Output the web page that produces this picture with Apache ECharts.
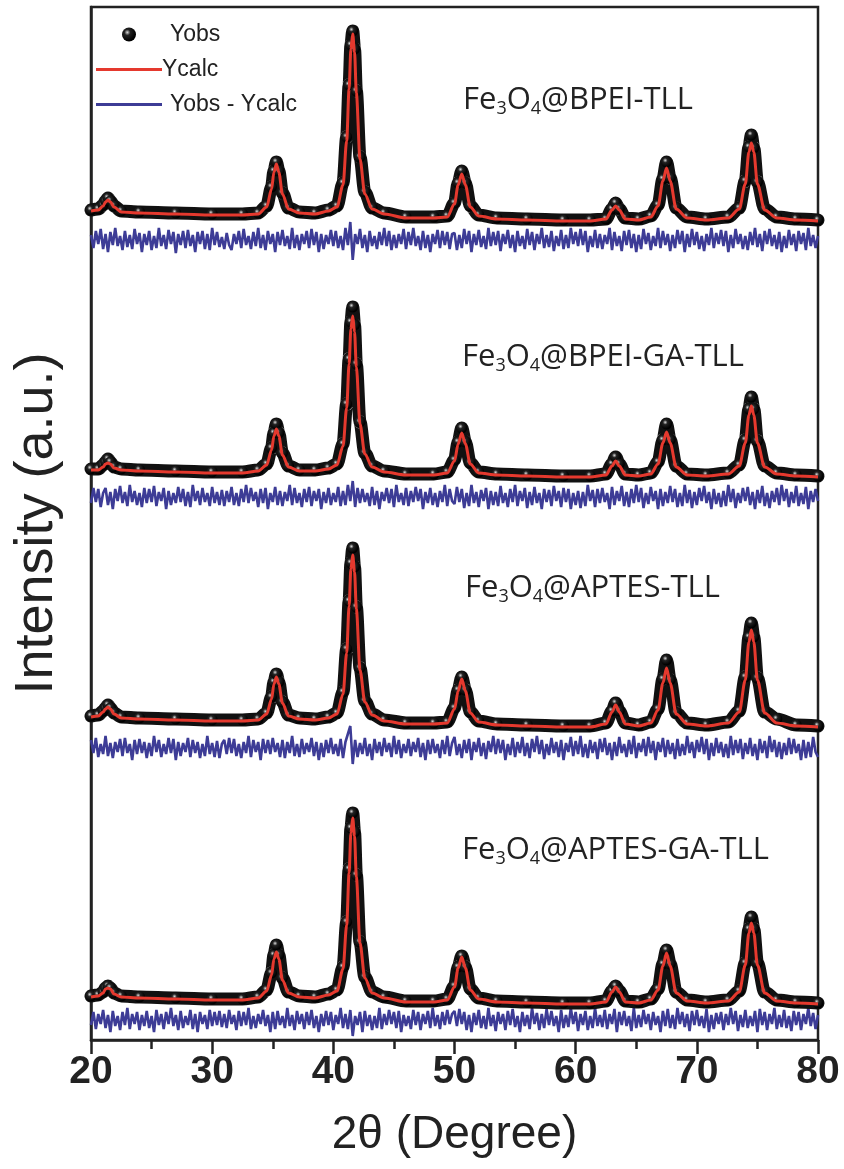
<!DOCTYPE html>
<html lang="en" style="height: 100%;margin: 0;">
<head>
    <meta charset="UTF-8">
    <title>XRD Rietveld</title>
    <script src="https://cdn.jsdelivr.net/npm/echarts@6/dist/echarts.min.js"></script>
</head>
<body style="height: 100%;margin: 0;background: #fff;">
<div id="chart" style="width: 844px;height: 1169px;"></div>
<script>
    // 2theta positions of the fitted profile (denser round the reflections)
    var twoTheta = [20, 20.6, 21.0, 21.2, 21.4, 21.6, 21.9, 22.5, 24, 27,
        30, 32.5, 33.8, 34.5, 34.9, 35.1, 35.3, 35.5, 35.8, 36.3,
        37.2, 38.5, 39.6, 40.3, 40.8, 41.1, 41.3, 41.45, 41.6, 41.75,
        41.9, 42.2, 42.6, 43.2, 44.2, 46, 48.3, 49.4, 50.0, 50.3,
        50.6, 50.9, 51.3, 52.0, 53.5, 56, 59, 61.2, 62.5, 63.0,
        63.3, 63.6, 64.1, 65.2, 66.2, 66.8, 67.2, 67.5, 67.8, 68.3,
        69.2, 70.8, 72.6, 73.5, 74.0, 74.3, 74.5, 74.7, 75.0, 75.6,
        76.6, 78.2, 80];

    var sampleNames = ["BPEI-TLL", "BPEI-GA-TLL", "APTES-TLL", "APTES-GA-TLL"];
    // vertical offset of each pattern in the stack (a.u.)
    var stackOffset = [819, 563, 313, 36];
    var diffShift = [-19, -20, -21, -16];

    var yCalc1 = [10, 11, 15, 19, 21, 19, 14, 9, 8, 7,
        6, 6, 7, 14, 32, 49, 57, 49, 27, 12,
        8, 7, 10, 14, 36, 80, 132, 172, 187, 169,
        128, 62, 27, 12, 7, 3, 3, 4, 17, 36,
        47, 36, 14, 5, 2, 1, 0, 0, 2, 11,
        15, 11, 2, 1, 4, 15, 40, 53, 40, 12,
        3, 1, 3, 12, 37, 69, 78, 69, 37, 11,
        3, 1, 0];
    var yObs1 = [11, 12, 16, 20, 23, 20, 15, 10, 9, 8,
        7, 7, 8, 15, 34, 50, 59, 50, 28, 13,
        9, 8, 11, 15, 38, 84, 136, 176, 190, 172,
        130, 64, 29, 13, 8, 4, 4, 5, 18, 38,
        50, 38, 15, 6, 3, 2, 1, 1, 2, 12,
        18, 12, 3, 2, 5, 16, 42, 59, 43, 13,
        4, 2, 4, 13, 40, 74, 86, 73, 39, 12,
        4, 2, 1];

    var yCalc2 = [7, 7, 10, 13, 14, 13, 9, 7, 6, 5,
        4, 4, 6, 12, 27, 41, 48, 41, 22, 10,
        6, 6, 8, 12, 31, 69, 113, 148, 161, 145,
        110, 53, 23, 10, 5, 2, 2, 4, 16, 33,
        44, 33, 13, 4, 2, 1, 0, 0, 2, 11,
        16, 11, 2, 1, 3, 13, 34, 45, 34, 10,
        2, 1, 3, 11, 34, 62, 71, 62, 34, 10,
        3, 1, 0];
    var yObs2 = [8, 8, 12, 15, 18, 15, 10, 8, 7, 6,
        5, 5, 7, 13, 29, 44, 53, 44, 24, 11,
        7, 7, 9, 13, 33, 73, 118, 155, 170, 152,
        113, 55, 24, 11, 6, 3, 3, 5, 17, 35,
        49, 35, 14, 5, 3, 2, 1, 1, 3, 13,
        20, 13, 3, 2, 4, 15, 37, 53, 37, 11,
        3, 2, 4, 12, 37, 68, 80, 68, 36, 11,
        4, 2, 1];

    var yCalc3 = [10, 11, 15, 18, 20, 18, 13, 9, 8, 7,
        6, 6, 7, 13, 28, 43, 50, 43, 24, 11,
        8, 7, 9, 13, 33, 74, 121, 158, 172, 155,
        118, 57, 25, 12, 6, 3, 3, 4, 18, 36,
        48, 36, 14, 5, 2, 1, 0, 0, 3, 15,
        22, 15, 3, 1, 4, 17, 44, 59, 44, 13,
        3, 1, 4, 15, 47, 85, 97, 85, 47, 14,
        4, 1, 0];
    var yObs3 = [11, 12, 16, 19, 22, 19, 14, 10, 9, 8,
        7, 7, 8, 14, 30, 45, 53, 45, 25, 12,
        9, 8, 10, 14, 35, 78, 126, 164, 179, 160,
        120, 59, 26, 13, 7, 4, 4, 5, 19, 37,
        50, 37, 15, 6, 3, 2, 1, 1, 4, 16,
        24, 16, 4, 2, 5, 18, 48, 67, 47, 14,
        4, 2, 5, 16, 50, 90, 104, 90, 49, 15,
        8, 2, 1];

    var yCalc4 = [7, 8, 11, 15, 16, 15, 10, 7, 6, 5,
        4, 4, 6, 13, 29, 45, 52, 45, 24, 11,
        7, 6, 9, 13, 35, 79, 131, 171, 186, 168,
        127, 61, 26, 11, 6, 2, 2, 4, 17, 36,
        47, 36, 14, 5, 2, 1, 0, 0, 2, 12,
        17, 12, 2, 1, 4, 14, 38, 51, 38, 11,
        3, 1, 3, 12, 39, 71, 81, 71, 39, 11,
        3, 1, 0];
    var yObs4 = [8, 9, 12, 16, 18, 16, 11, 8, 7, 6,
        5, 5, 7, 14, 31, 49, 59, 49, 26, 12,
        8, 7, 10, 14, 37, 82, 135, 176, 191, 172,
        129, 62, 27, 12, 7, 3, 3, 5, 18, 37,
        48, 37, 15, 6, 3, 2, 1, 1, 3, 13,
        18, 13, 3, 2, 5, 15, 40, 54, 40, 12,
        4, 2, 4, 13, 41, 75, 87, 75, 41, 12,
        4, 2, 1];

    // difference curves, recorded from 20 deg in 0.2 deg steps
    var diffStart = 20;
    var diffStep = 0.2;
    var yDiff1 = [5, -8, 9, -4, 11, -9, 6, -12, 8, -5,
        12, -6, 4, -10, 9, -7, 5, -9, 11, -4,
        7, -12, 6, -5, 9, -10, 4, -8, 12, -6,
        5, -9, 10, -4, 8, -13, 6, -5, 9, -8,
        10, -6, 5, -12, 8, -4, 9, -9, 6, -10,
        12, -5, 8, -7, 3, -9, 7, -5, -10, 6,
        -4, 9, -8, 11, -5, 4, -9, 8, -6, 12,
        -8, 5, -10, 9, -4, 6, -12, 8, -5, 10,
        -6, 4, -9, 12, -8, 5, -10, 6, -4, 9,
        -8, 11, -5, 8, -12, 6, -9, 5, -4, 10,
        -6, 9, -8, 4, -10, 12, -5, 18, -20, 6,
        -4, 11, -8, 5, -12, 9, -6, 4, -9, 8,
        -5, 12, -6, 9, -10, 5, -8, 6, -4, 11,
        -9, 8, -5, 12, -6, 4, -10, 9, -8, 5,
        -12, 6, -4, 10, -8, 9, -5, 8, -9, 6,
        7, -10, 5, -8, 11, -4, 9, -12, 6, -5,
        10, -7, 4, -9, 12, -6, 8, -5, 9, -11,
        6, -4, 10, -8, 5, -12, 9, -6, 4, -9,
        11, -5, 8, -10, 6, -4, 12, -8, 5, -7,
        9, -11, 4, -6, 10, -9, 5, -8, 12, -4,
        8, -6, 11, -5, 9, -12, 4, -7, 10, -8,
        6, -9, 5, -4, 12, -10, 8, -6, 4, -11,
        9, -5, 10, -8, 6, -12, 5, -9, 11, -4,
        7, -10, 4, -6, 12, -8, 9, -5, 6, -11,
        5, -8, 10, -4, 9, -12, 6, -7, 11, -5,
        8, -9, 4, -11, 6, -5, 12, -8, 7, -4,
        10, -6, 9, -12, 5, -8, 11, -4, 6, -9,
        4, -10, 8, -5, 12, -7, 6, -11, 9, -4,
        11, -6, 5, -9, 8, -12, 4, -8, 10, -5,
        6, -11, 9, -4, 7, -10, 12, -6, 5, -8,
        4];
    var yDiff2 = [-6, 9, -5, 8, -10, 4, 9, -8, 5, -12,
        8, -4, 11, -6, 5, -9, 12, -5, 6, -8,
        4, -10, 9, -6, 8, -5, 11, -9, 5, -4,
        9, -12, 6, -8, 4, -6, 10, -5, 8, -9,
        5, -10, 12, -4, 6, -8, 9, -5, 4, -9,
        10, -6, 5, -8, 7, -9, 6, -5, 10, -8,
        4, -9, 8, -5, 12, -6, 9, -4, 5, -10,
        8, -6, 9, -12, 4, -5, 10, -8, 6, -9,
        5, -4, 12, -8, 9, -6, 4, -10, 8, -5,
        10, -9, 6, -4, 8, -12, 5, -6, 9, -8,
        4, -5, 10, -9, 6, -8, 12, -4, 16, -10,
        9, -6, 8, -5, 4, -9, 10, -8, 6, -12,
        5, -4, 9, -6, 8, -10, 12, -5, 4, -8,
        9, -9, 6, -5, 10, -4, 8, -12, 5, -6,
        9, -8, 4, -10, 6, -5, 12, -9, 8, -4,
        -7, 10, -5, 8, -11, 4, -9, 12, -6, 5,
        -10, 7, -4, 9, -12, 6, -8, 5, -9, 11,
        -6, 4, -10, 8, -5, 12, -9, 6, -4, 9,
        -11, 5, -8, 10, -6, 4, -12, 8, -5, 7,
        -9, 11, -4, 6, -10, 9, -5, 8, -12, 4,
        -8, 6, -11, 5, -9, 12, -4, 7, -10, 8,
        -6, 9, -5, 4, -12, 10, -8, 6, -4, 11,
        -9, 5, -10, 8, -6, 12, -5, 9, -11, 4,
        -7, 10, -4, 6, -12, 8, -9, 5, -6, 11,
        -5, 8, -10, 4, -9, 12, -6, 7, -11, 5,
        -8, 9, -4, 11, -6, 5, -12, 8, -7, 4,
        -10, 6, -9, 12, -5, 8, -11, 4, -6, 9,
        -4, 10, -8, 5, -12, 7, -6, 11, -9, 4,
        -11, 6, -5, 9, -8, 12, -4, 8, -10, 5,
        -6, 11, -9, 4, -7, 10, -12, 6, -5, 8,
        -4];
    var yDiff3 = [8, -5, 10, -9, 4, -6, 12, -8, 5, -10,
        6, -4, 9, -8, 10, -5, 4, -12, 8, -6,
        9, -5, 6, -10, 5, -8, 12, -4, 8, -9,
        4, -6, 10, -5, 9, -12, 6, -8, 5, -4,
        10, -9, 8, -5, 6, -10, 4, -8, 12, -6,
        5, -9, 7, -10, 4, 8, -6, 10, -5, 9,
        -8, 4, -10, 6, -5, 12, -9, 8, -4, 6,
        -12, 9, -5, 8, -6, 10, -4, 5, -9, 8,
        -10, 6, -5, 12, -8, 4, -9, 9, -6, 5,
        -4, 10, -8, 6, -12, 5, -9, 8, -5, 10,
        -6, 4, -8, 9, -10, 6, 14, 22, -16, 8,
        -9, 5, -6, 10, -8, 4, -12, 9, -5, 6,
        -8, 10, -4, 5, -9, 12, -6, 8, -10, 4,
        -5, 9, -8, 6, -4, 10, -9, 5, -12, 8,
        -6, 9, -5, 4, -10, 8, -6, 12, -8, 5,
        11, -7, 4, -10, 8, -5, 9, -12, 6, -4,
        10, -8, 5, -11, 7, -4, 12, -6, 9, -5,
        8, -12, 4, -7, 10, -9, 6, -5, 11, -8,
        5, -10, 9, -4, 12, -6, 8, -11, 4, -7,
        10, -5, 6, -9, 8, -12, 5, -4, 11, -8,
        7, -6, 12, -9, 4, -10, 8, -5, 6, -11,
        9, -4, 10, -7, 5, -12, 6, -8, 11, -5,
        4, -9, 8, -6, 12, -10, 5, -4, 9, -8,
        11, -5, 7, -12, 6, -4, 10, -9, 8, -6,
        5, -11, 9, -8, 4, -7, 12, -5, 6, -10,
        8, -4, 11, -6, 9, -12, 5, -8, 10, -5,
        6, -9, 4, -10, 12, -7, 8, -5, 9, -11,
        5, -6, 10, -8, 4, -12, 9, -5, 7, -10,
        12, -4, 8, -9, 6, -11, 5, -7, 10, -6,
        9, -5, 4, -12, 8, -10, 6, -9, 11, -4,
        -9];
    var yDiff4 = [-5, 8, -9, 6, -4, 10, -8, 5, -12, 9,
        -6, 4, -10, 8, -5, 12, -9, 6, -4, 8,
        -10, 5, -6, 9, -8, 4, -12, 10, -5, 6,
        -9, 8, -4, 12, -6, 5, -10, 9, -8, 4,
        -5, 10, -9, 6, -12, 8, -4, 5, -9, 10,
        -6, 8, -5, 9, -7, 6, -8, 10, -4, 5,
        -10, 9, -6, 8, -5, 12, -9, 4, -8, 6,
        -4, 10, -6, 5, -12, 8, -9, 9, -5, 4,
        -8, 12, -6, 5, -10, 9, -4, 6, -9, 8,
        -5, 10, -8, 4, -12, 6, -6, 9, -5, 8,
        -10, 5, -4, 12, -8, 6, -9, 10, -16, 4,
        -5, 8, -12, 9, -6, 5, -10, 4, -8, 12,
        -9, 6, -5, 10, -4, 8, -8, 9, -12, 5,
        -6, 4, -9, 10, -5, 8, -10, 6, -4, 9,
        -8, 12, -6, 5, -9, 8, -5, 10, -4, 6,
        9, -6, 11, -4, 8, -10, 5, -12, 7, -5,
        10, -8, 4, -9, 12, -6, 5, -11, 8, -4,
        6, -10, 9, -5, 11, -7, 4, -12, 8, -6,
        5, -9, 12, -4, 7, -10, 6, -8, 11, -5,
        9, -6, 4, -12, 10, -8, 5, -7, 12, -4,
        8, -11, 6, -5, 9, -10, 4, -8, 12, -6,
        5, -7, 10, -9, 6, -4, 11, -12, 8, -5,
        9, -6, 4, -11, 12, -8, 5, -7, 10, -4,
        6, -10, 8, -5, 4, -12, 9, -6, 11, -8,
        5, -9, 12, -4, 8, -7, 6, -11, 9, -5,
        10, -6, 4, -8, 11, -12, 5, -9, 7, -4,
        8, -10, 6, -5, 12, -4, 9, -11, 5, -7,
        10, -8, 4, -6, 9, -12, 11, -5, 8, -10,
        6, -4, 12, -9, 5, -7, 10, -8, 4, -11,
        9, -5, 8, -10, 6, -4, 12, -6, 7, -9,
        5];

    var xTicks = [20, 30, 40, 50, 60, 70, 80];

    var yCalc = [yCalc1, yCalc2, yCalc3, yCalc4];
    var yObs = [yObs1, yObs2, yObs3, yObs4];
    var yDiff = [yDiff1, yDiff2, yDiff3, yDiff4];

    var labelTop = [82, 339, 570, 832];
    var labelLeft = [463, 462, 465, 462];

    var ball = {
        type: 'radial', x: 0.38, y: 0.35, r: 0.6,
        colorStops: [{offset: 0, color: '#d8d8d8'}, {offset: 0.35, color: '#222'}, {offset: 1, color: '#000'}]
    };

    var chart = echarts.init(document.getElementById('chart'), null, {renderer: 'canvas'});

    function shift(arr, off) {
        var out = [];
        for (var i = 0; i < arr.length; i++) out.push(arr[i] + off);
        return out;
    }

    var series = [];
    var titles = [];
    for (var p = 0; p < 4; p++) {
        var obs = shift(yObs[p], stackOffset[p]);
        var calc = shift(yCalc[p], stackOffset[p]);
        var diff = shift(yDiff[p], stackOffset[p] + diffShift[p]);
        var obsData = [], calcData = [], diffData = [];
        for (var i = 0; i < twoTheta.length; i++) {
            obsData.push([twoTheta[i], obs[i]]);
            calcData.push([twoTheta[i], calc[i]]);
        }
        for (var j = 0; j < diff.length; j++) {
            diffData.push([diffStart + j * diffStep, diff[j]]);
        }
        series.push({
            name: 'Yobs - Ycalc', type: 'line', data: diffData, symbol: 'none',
            lineStyle: {color: '#3d3c96', width: 2.6}, itemStyle: {color: '#3d3c96'}, z: 2
        });
        series.push({
            name: 'Yobs', type: 'line', data: obsData, smooth: 0.3, smoothMonotone: 'x',
            symbol: 'circle', symbolSize: 11, showAllSymbol: true,
            lineStyle: {color: '#111', width: 13, cap: 'round', join: 'round'},
            itemStyle: {color: ball}, z: 3
        });
        series.push({
            name: 'Ycalc', type: 'line', data: calcData, smooth: 0.3, smoothMonotone: 'x', symbol: 'none',
            lineStyle: {color: '#e5392e', width: 3}, itemStyle: {color: '#e5392e'}, z: 4
        });
        titles.push({
            text: '{n|Fe}{s|3}{n|O}{s|4}{n|@' + sampleNames[p] + '}',
            left: labelLeft[p], top: labelTop[p], padding: 0,
            textStyle: {
                fontWeight: 'normal',
                rich: {
                    n: {fontFamily: 'Open Sans', fontWeight: 'normal', fontSize: 31, lineHeight: 36, color: '#222'},
                    s: {fontFamily: 'Open Sans', fontWeight: 'normal', fontSize: 18, lineHeight: 29, verticalAlign: 'bottom', color: '#222'}
                }
            }
        });
    }

    var option = {
        animation: false,
        backgroundColor: '#fff',
        title: titles,
        legend: {
            orient: 'vertical', left: 91, top: 18, itemWidth: 66, itemHeight: 14, itemGap: 12,
            textStyle: {fontFamily: 'Liberation Sans', fontSize: 23, lineHeight: 23, color: '#222'},
            data: [
                {name: 'Yobs', icon: 'circle', textStyle: {padding: [0, 0, 0, 3]}},
                {name: 'Ycalc', icon: 'path://M0,0H66V3H0Z', textStyle: {padding: [0, 0, 0, -5]}},
                {name: 'Yobs - Ycalc', icon: 'path://M0,0H66V3H0Z', textStyle: {padding: [0, 0, 0, 3]}}
            ]
        },
        grid: {
            left: 91, right: 26, top: 7, bottom: 129, outerBoundsMode: 'none',
            show: true, borderColor: '#222', borderWidth: 2.5
        },
        xAxis: {
            type: 'value', min: 20, max: 80, interval: 10,
            name: '2\u03b8 (Degree)', nameLocation: 'middle', nameGap: 72,
            nameTextStyle: {fontFamily: 'Liberation Sans', fontSize: 46, color: '#222'},
            axisLine: {lineStyle: {color: '#222', width: 2.5}},
            axisTick: {length: 14, lineStyle: {width: 2.5, color: '#222'}},
            minorTick: {show: true, splitNumber: 2, length: 9, lineStyle: {width: 2.5, color: '#222'}},
            splitLine: {show: false},
            axisLabel: {
                fontFamily: 'Liberation Sans', fontWeight: 'bold', fontSize: 39, color: '#222', margin: 13,
                customValues: xTicks
            }
        },
        yAxis: {
            type: 'value', min: 0, max: 1033,
            name: 'Intensity (a.u.)', nameLocation: 'middle', nameGap: 27, nameRotate: 90,
            nameTextStyle: {fontFamily: 'Liberation Sans', fontSize: 54, color: '#222'},
            axisLine: {show: true, lineStyle: {color: '#222', width: 2.5}},
            axisTick: {show: false}, axisLabel: {show: false}, splitLine: {show: false}
        },
        series: series
    };
    chart.setOption(option);
</script>
</body>
</html>
